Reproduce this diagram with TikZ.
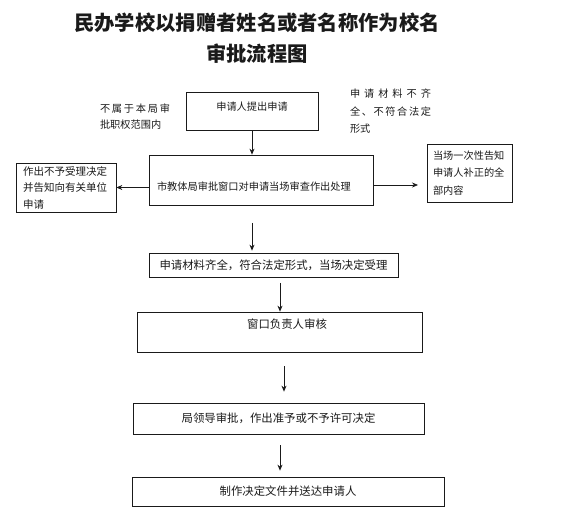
\documentclass[tikz,border=0pt]{standalone}
\usepackage{fontspec}
\usepackage{tikz}
\usetikzlibrary{arrows.meta}
\setmainfont{Noto Sans CJK SC}
\definecolor{inkgray}{HTML}{1A1A1A}

\begin{document}
\begin{tikzpicture}[x=1pt, y=-1pt, >={Stealth[length=6pt, width=5pt]},
  box/.style={draw=inkgray, line width=0.7pt, inner sep=0pt, text=inkgray},
  small/.style={font=\fontsize{10.2}{16.5}\selectfont},
  large/.style={font=\fontsize{11.4}{16}\selectfont},
  flow/.style={->, line width=0.7pt, draw=inkgray}]
  \useasboundingbox (0,0) rectangle (583,526);
  % title
  \node[align=center, text=inkgray, font=\fontsize{20.3}{31}\selectfont\bfseries] (title) at (257,38.5)
    {民办学校以捐赠者姓名或者名称作为校名\\审批流程图};
  % first row
  \node[box, small, minimum width=132pt, text height=18.9pt, text depth=19.1pt] (apply) at (252,111) {申请人提出申请};
  \node[small, align=left, text=inkgray, text width=72pt] (outnote) at (136,116.5)
    {\makebox[70pt][s]{不\hfill 属\hfill 于\hfill 本\hfill 局\hfill 审}\\批职权范围内};
  \node[small, align=left, text=inkgray, text width=82pt, font=\fontsize{10.2}{17.5}\selectfont] (lacknote) at (391,111.5)
    {\makebox[81pt][s]{申\hfill 请\hfill 材\hfill 料\hfill 不\hfill 齐}\\
     \makebox[81pt][s]{全\hfill 、\hfill 不\hfill 符\hfill 合\hfill 法\hfill 定}\\形式};
  % second row
  \node[box, small, inner xsep=8pt, text width=208pt, align=left, minimum height=50pt,
    text height=35.9pt, text depth=14.1pt] (review) at (261,180) {市教体局审批窗口对申请当场审查作出处理};
  \node[box, small, inner xsep=7pt, text width=86pt, align=left, minimum height=49pt,
    font=\fontsize{10.5}{16.5}\selectfont] (reject) at (66,187.5) {作出不予受理决定\\并告知向有关单位\\申请};
  \node[box, small, inner xsep=6pt, text width=73pt, align=left, minimum height=58pt,
    font=\fontsize{10.2}{17.5}\selectfont] (notify) at (469.5,173) {当场一次性告知\\申请人补正的全\\部内容};
  % main column
  \node[box, large, minimum width=249pt, minimum height=24pt] (accept) at (273.5,265) {申请材料齐全，符合法定形式，当场决定受理};
  \node[box, large, minimum width=285pt, text height=16.3pt, text depth=23.7pt] (check) at (279.5,332) {\hspace*{15pt}窗口负责人审核};
  \node[box, large, minimum width=291pt, minimum height=31pt] (decide) at (278.5,418.5) {局领导审批，作出准予或不予许可决定};
  \node[box, large, minimum width=312pt, minimum height=29pt] (deliver) at (288,491.5) {制作决定文件并送达申请人};
  % arrow starts
  \coordinate (tonotify) at (418,185);
  \coordinate (d1) at (252,223);
  \coordinate (d2) at (280,283);
  \coordinate (d3) at (284,366);
  \coordinate (d4) at (280,445);
  % arrows
  \draw[flow] (apply) -- (apply |- review.north);
  \draw[flow] (review.west |- reject.east) -- (reject.east);
  \draw[flow] (review.east |- tonotify) -- (tonotify);
  \draw[flow, shorten >=2pt] (d1) -- (d1 |- accept.north);
  \draw[flow] (d2) -- (d2 |- check.north);
  \draw[flow, shorten >=11pt] (d3) -- (d3 |- decide.north);
  \draw[flow, shorten >=6pt] (d4) -- (d4 |- deliver.north);
\end{tikzpicture}
\end{document}
